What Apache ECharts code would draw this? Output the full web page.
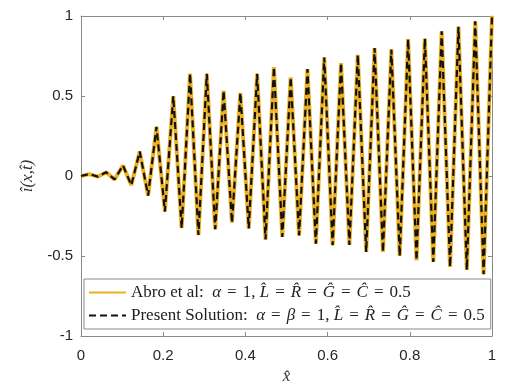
<!DOCTYPE html>
<html>
<head>
<meta charset="utf-8">
<script src="https://cdn.jsdelivr.net/npm/echarts@6/dist/echarts.min.js"></script>
<style>
  html, body { margin: 0; padding: 0; background: #fff; }
  #chart { width: 520px; height: 392px; }
</style>
</head>
<body>
<div id="chart"></div>
<script>
// sampled current, 50 evenly spaced points on [0, 1]
var sampleCount = 50;
var abroValues = [
    0, 0.012, -0.004, 0.024, -0.022, 0.066, -0.057, 0.153, -0.122, 0.307,
    -0.222, 0.499, -0.326, 0.640, -0.369, 0.638, -0.333, 0.533, -0.292, 0.519,
    -0.327, 0.638, -0.396, 0.680, -0.381, 0.617, -0.371, 0.668, -0.423, 0.741,
    -0.433, 0.706, -0.431, 0.757, -0.475, 0.800, -0.475, 0.790, -0.500, 0.855,
    -0.527, 0.859, -0.537, 0.905, -0.568, 0.932, -0.587, 0.967, -0.614, 1.000
];
var presentValues = [
    0, 0.012, -0.004, 0.024, -0.022, 0.066, -0.057, 0.153, -0.122, 0.307,
    -0.222, 0.499, -0.326, 0.640, -0.369, 0.638, -0.333, 0.533, -0.292, 0.519,
    -0.327, 0.638, -0.396, 0.680, -0.381, 0.617, -0.371, 0.668, -0.423, 0.741,
    -0.433, 0.706, -0.431, 0.757, -0.475, 0.800, -0.475, 0.790, -0.500, 0.855,
    -0.527, 0.859, -0.537, 0.905, -0.568, 0.932, -0.587, 0.967, -0.614, 1.000
];
var seriesNames = ['Abro et al', 'Present Solution'];
var legendLabels = {
    'Abro et al': '{r|Abro et al:  }{m|α}{q|=}{r|1, }{m|L\u0302}{q|=}{m|R\u0302}{q|=}{m|Ĝ}{q|=}{m|Ĉ}{q|=}{r|0.5}',
    'Present Solution': '{r|Present Solution:  }{m|α}{q|=}{m|β}{q|=}{r|1, }{m|L\u0302}{q|=}{m|R\u0302}{q|=}{m|Ĝ}{q|=}{m|Ĉ}{q|=}{r|0.5}'
};

function pairs(values) {
    var out = [];
    for (var i = 0; i < values.length; i++) {
        out.push([i / (sampleCount - 1), values[i]]);
    }
    return out;
}

var axisColor = '#8a8a8a';
var labelFont = { fontFamily: 'Liberation Sans', fontSize: 15, color: '#262626' };
var serif = 'Liberation Serif';

var myChart = echarts.init(document.getElementById('chart'));
var option = {
    animation: false,
    backgroundColor: '#fff',
    grid: { left: 81, right: 28, top: 16, bottom: 56 },
    legend: {
        orient: 'vertical',
        left: 84,
        top: 279,
        data: seriesNames,
        itemWidth: 37,
        itemHeight: 12,
        itemGap: 6,
        padding: [5, 6, 5, 4],
        backgroundColor: '#fff',
        borderColor: '#8a8a8a',
        borderWidth: 1,
        itemStyle: { opacity: 0, borderWidth: 0 },
        formatter: function (name) { return legendLabels[name]; },
        textStyle: {
            rich: {
                r: { fontFamily: serif, fontSize: 17, lineHeight: 16, color: '#222' },
                m: { fontFamily: serif, fontStyle: 'italic', fontSize: 17, lineHeight: 16, color: '#222' },
                q: { fontFamily: serif, fontSize: 17, lineHeight: 16, color: '#222', padding: [0, 6] }
            }
        }
    },
    xAxis: [
        {
            type: 'value', min: 0, max: 1, interval: 0.2,
            name: 'x\u0302', nameLocation: 'middle', nameGap: 28,
            nameTextStyle: { fontFamily: serif, fontStyle: 'italic', fontSize: 17, color: '#333' },
            axisLine: { onZero: false, lineStyle: { color: axisColor } },
            axisTick: { inside: true, length: 4, lineStyle: { color: axisColor } },
            axisLabel: Object.assign({ margin: 12, formatter: function (v) { return String(+v.toFixed(1)); } }, labelFont),
            splitLine: { show: false }
        },
        {
            type: 'value', min: 0, max: 1, interval: 0.2, position: 'top',
            axisLine: { onZero: false, lineStyle: { color: axisColor } },
            axisTick: { inside: true, length: 4, lineStyle: { color: axisColor } },
            axisLabel: { show: false },
            splitLine: { show: false }
        }
    ],
    yAxis: [
        {
            type: 'value', min: -1, max: 1, interval: 0.5,
            name: 'î(x,t\u0302)', nameLocation: 'middle', nameGap: 40,
            nameTextStyle: { fontFamily: serif, fontStyle: 'italic', fontSize: 17, color: '#333' },
            axisLine: { show: true, onZero: false, lineStyle: { color: axisColor } },
            axisTick: { show: true, inside: true, length: 4, lineStyle: { color: axisColor } },
            axisLabel: Object.assign({ margin: 8 }, labelFont),
            splitLine: { show: false }
        },
        {
            type: 'value', min: -1, max: 1, interval: 0.5, position: 'right',
            axisLine: { show: true, onZero: false, lineStyle: { color: axisColor } },
            axisTick: { show: true, inside: true, length: 4, lineStyle: { color: axisColor } },
            axisLabel: { show: false },
            splitLine: { show: false }
        }
    ],
    series: [
        {
            name: seriesNames[0],
            type: 'line',
            data: pairs(abroValues),
            symbol: 'none',
            color: '#EDB120',
            lineStyle: { color: '#EDB120', width: 4 }
        },
        {
            name: seriesNames[1],
            type: 'line',
            data: pairs(presentValues),
            symbol: 'none',
            color: '#111',
            lineStyle: { color: '#111', width: 2.2, type: [7, 4] }
        }
    ]
};
myChart.setOption(option);
</script>
</body>
</html>
